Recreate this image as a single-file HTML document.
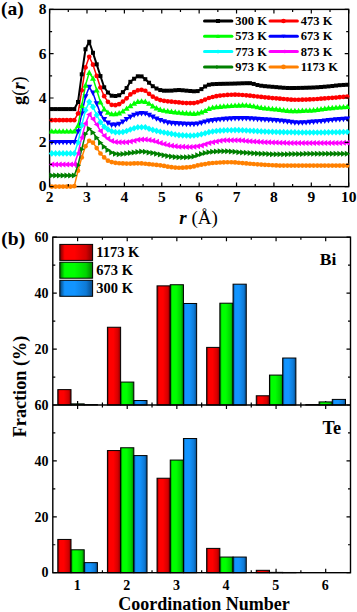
<!DOCTYPE html>
<html><head><meta charset="utf-8"><style>
html,body{margin:0;padding:0;background:#fff;width:357px;height:612px;overflow:hidden}
svg{display:block}
text{font-family:"Liberation Serif",serif}
</style></head><body>
<svg width="357" height="612" viewBox="0 0 357 612" font-family='"Liberation Serif", serif'>
<defs>
<linearGradient id="gr" x1="0" x2="1" y1="0" y2="0"><stop offset="0" stop-color="#700000"/><stop offset="0.15" stop-color="#ff0000"/><stop offset="0.45" stop-color="#ff0000"/><stop offset="0.8" stop-color="#d40000"/><stop offset="1" stop-color="#800000"/></linearGradient>
<linearGradient id="gg" x1="0" x2="1" y1="0" y2="0"><stop offset="0" stop-color="#007000"/><stop offset="0.15" stop-color="#00ff00"/><stop offset="0.45" stop-color="#00ff00"/><stop offset="0.8" stop-color="#00d400"/><stop offset="1" stop-color="#008000"/></linearGradient>
<linearGradient id="gb" x1="0" x2="1" y1="0" y2="0"><stop offset="0" stop-color="#064478"/><stop offset="0.15" stop-color="#1294ff"/><stop offset="0.45" stop-color="#1294ff"/><stop offset="0.8" stop-color="#0e7ad6"/><stop offset="1" stop-color="#084a86"/></linearGradient>
</defs>
<rect width="357" height="612" fill="#fff"/>
<rect x="49.6" y="9.4" width="299.10" height="177.20" fill="none" stroke="#000" stroke-width="1.4"/>
<path d="M49.60 186.60 L51.84 186.60 L55.58 186.60 L59.32 186.60 L63.06 186.60 L66.80 186.60 L70.54 186.60 L74.28 186.14 L78.01 170.74 L81.75 157.45 L85.49 146.25 L89.23 140.73 L92.97 142.67 L96.71 148.05 L100.45 153.48 L104.19 157.45 L107.92 160.72 L111.66 162.05 L115.40 162.79 L119.14 163.27 L122.88 163.45 L126.62 163.55 L130.36 163.54 L134.10 163.43 L137.83 163.35 L141.57 163.44 L145.31 163.77 L149.05 164.16 L152.79 164.51 L156.53 164.90 L160.27 165.36 L164.01 165.95 L167.74 166.72 L171.48 167.22 L175.22 167.55 L178.96 167.75 L182.70 167.72 L186.44 167.47 L190.18 167.07 L193.92 166.46 L197.65 165.45 L201.39 164.70 L205.13 164.03 L208.87 163.45 L212.61 163.02 L216.35 162.75 L220.09 162.52 L223.83 162.34 L227.56 162.24 L231.30 162.27 L235.04 162.46 L238.78 162.77 L242.52 163.12 L246.26 163.45 L250.00 163.73 L253.74 164.01 L257.47 164.30 L261.21 164.57 L264.95 164.81 L268.69 165.02 L272.43 165.24 L276.17 165.43 L279.91 165.55 L283.65 165.56 L287.38 165.56 L291.12 165.56 L294.86 165.56 L298.60 165.56 L302.34 165.56 L306.08 165.56 L309.82 165.56 L313.56 165.56 L317.29 165.56 L321.03 165.56 L324.77 165.56 L328.51 165.56 L332.25 165.56 L335.99 165.56 L339.73 165.56 L343.47 165.56 L347.20 165.56 L348.70 165.56" fill="none" stroke="#ff8000" stroke-width="1.5" stroke-linejoin="round"/>
<circle cx="51.84" cy="186.60" r="2.35" fill="#ff8000"/>
<circle cx="55.58" cy="186.60" r="2.35" fill="#ff8000"/>
<circle cx="59.32" cy="186.60" r="2.35" fill="#ff8000"/>
<circle cx="63.06" cy="186.60" r="2.35" fill="#ff8000"/>
<circle cx="66.80" cy="186.60" r="2.35" fill="#ff8000"/>
<circle cx="70.54" cy="186.60" r="2.35" fill="#ff8000"/>
<circle cx="74.28" cy="186.14" r="2.35" fill="#ff8000"/>
<circle cx="78.01" cy="170.74" r="2.35" fill="#ff8000"/>
<circle cx="81.75" cy="157.45" r="2.35" fill="#ff8000"/>
<circle cx="85.49" cy="146.25" r="2.35" fill="#ff8000"/>
<circle cx="89.23" cy="140.73" r="2.35" fill="#ff8000"/>
<circle cx="92.97" cy="142.67" r="2.35" fill="#ff8000"/>
<circle cx="96.71" cy="148.05" r="2.35" fill="#ff8000"/>
<circle cx="100.45" cy="153.48" r="2.35" fill="#ff8000"/>
<circle cx="104.19" cy="157.45" r="2.35" fill="#ff8000"/>
<circle cx="107.92" cy="160.72" r="2.35" fill="#ff8000"/>
<circle cx="111.66" cy="162.05" r="2.35" fill="#ff8000"/>
<circle cx="115.40" cy="162.79" r="2.35" fill="#ff8000"/>
<circle cx="119.14" cy="163.27" r="2.35" fill="#ff8000"/>
<circle cx="122.88" cy="163.45" r="2.35" fill="#ff8000"/>
<circle cx="126.62" cy="163.55" r="2.35" fill="#ff8000"/>
<circle cx="130.36" cy="163.54" r="2.35" fill="#ff8000"/>
<circle cx="134.10" cy="163.43" r="2.35" fill="#ff8000"/>
<circle cx="137.83" cy="163.35" r="2.35" fill="#ff8000"/>
<circle cx="141.57" cy="163.44" r="2.35" fill="#ff8000"/>
<circle cx="145.31" cy="163.77" r="2.35" fill="#ff8000"/>
<circle cx="149.05" cy="164.16" r="2.35" fill="#ff8000"/>
<circle cx="152.79" cy="164.51" r="2.35" fill="#ff8000"/>
<circle cx="156.53" cy="164.90" r="2.35" fill="#ff8000"/>
<circle cx="160.27" cy="165.36" r="2.35" fill="#ff8000"/>
<circle cx="164.01" cy="165.95" r="2.35" fill="#ff8000"/>
<circle cx="167.74" cy="166.72" r="2.35" fill="#ff8000"/>
<circle cx="171.48" cy="167.22" r="2.35" fill="#ff8000"/>
<circle cx="175.22" cy="167.55" r="2.35" fill="#ff8000"/>
<circle cx="178.96" cy="167.75" r="2.35" fill="#ff8000"/>
<circle cx="182.70" cy="167.72" r="2.35" fill="#ff8000"/>
<circle cx="186.44" cy="167.47" r="2.35" fill="#ff8000"/>
<circle cx="190.18" cy="167.07" r="2.35" fill="#ff8000"/>
<circle cx="193.92" cy="166.46" r="2.35" fill="#ff8000"/>
<circle cx="197.65" cy="165.45" r="2.35" fill="#ff8000"/>
<circle cx="201.39" cy="164.70" r="2.35" fill="#ff8000"/>
<circle cx="205.13" cy="164.03" r="2.35" fill="#ff8000"/>
<circle cx="208.87" cy="163.45" r="2.35" fill="#ff8000"/>
<circle cx="212.61" cy="163.02" r="2.35" fill="#ff8000"/>
<circle cx="216.35" cy="162.75" r="2.35" fill="#ff8000"/>
<circle cx="220.09" cy="162.52" r="2.35" fill="#ff8000"/>
<circle cx="223.83" cy="162.34" r="2.35" fill="#ff8000"/>
<circle cx="227.56" cy="162.24" r="2.35" fill="#ff8000"/>
<circle cx="231.30" cy="162.27" r="2.35" fill="#ff8000"/>
<circle cx="235.04" cy="162.46" r="2.35" fill="#ff8000"/>
<circle cx="238.78" cy="162.77" r="2.35" fill="#ff8000"/>
<circle cx="242.52" cy="163.12" r="2.35" fill="#ff8000"/>
<circle cx="246.26" cy="163.45" r="2.35" fill="#ff8000"/>
<circle cx="250.00" cy="163.73" r="2.35" fill="#ff8000"/>
<circle cx="253.74" cy="164.01" r="2.35" fill="#ff8000"/>
<circle cx="257.47" cy="164.30" r="2.35" fill="#ff8000"/>
<circle cx="261.21" cy="164.57" r="2.35" fill="#ff8000"/>
<circle cx="264.95" cy="164.81" r="2.35" fill="#ff8000"/>
<circle cx="268.69" cy="165.02" r="2.35" fill="#ff8000"/>
<circle cx="272.43" cy="165.24" r="2.35" fill="#ff8000"/>
<circle cx="276.17" cy="165.43" r="2.35" fill="#ff8000"/>
<circle cx="279.91" cy="165.55" r="2.35" fill="#ff8000"/>
<circle cx="283.65" cy="165.56" r="2.35" fill="#ff8000"/>
<circle cx="287.38" cy="165.56" r="2.35" fill="#ff8000"/>
<circle cx="291.12" cy="165.56" r="2.35" fill="#ff8000"/>
<circle cx="294.86" cy="165.56" r="2.35" fill="#ff8000"/>
<circle cx="298.60" cy="165.56" r="2.35" fill="#ff8000"/>
<circle cx="302.34" cy="165.56" r="2.35" fill="#ff8000"/>
<circle cx="306.08" cy="165.56" r="2.35" fill="#ff8000"/>
<circle cx="309.82" cy="165.56" r="2.35" fill="#ff8000"/>
<circle cx="313.56" cy="165.56" r="2.35" fill="#ff8000"/>
<circle cx="317.29" cy="165.56" r="2.35" fill="#ff8000"/>
<circle cx="321.03" cy="165.56" r="2.35" fill="#ff8000"/>
<circle cx="324.77" cy="165.56" r="2.35" fill="#ff8000"/>
<circle cx="328.51" cy="165.56" r="2.35" fill="#ff8000"/>
<circle cx="332.25" cy="165.56" r="2.35" fill="#ff8000"/>
<circle cx="335.99" cy="165.56" r="2.35" fill="#ff8000"/>
<circle cx="339.73" cy="165.56" r="2.35" fill="#ff8000"/>
<circle cx="343.47" cy="165.56" r="2.35" fill="#ff8000"/>
<circle cx="347.20" cy="165.56" r="2.35" fill="#ff8000"/>
<path d="M49.60 175.53 L51.84 175.53 L55.58 175.53 L59.32 175.53 L63.06 175.53 L66.80 175.53 L70.54 175.53 L74.28 175.53 L78.01 165.28 L81.75 149.20 L85.49 133.94 L89.23 128.64 L92.97 132.41 L96.71 137.79 L100.45 142.77 L104.19 146.86 L107.92 150.06 L111.66 152.49 L115.40 153.81 L119.14 154.25 L122.88 153.88 L126.62 153.42 L130.36 152.92 L134.10 152.44 L137.83 151.93 L141.57 151.61 L145.31 151.84 L149.05 152.38 L152.79 152.99 L156.53 153.74 L160.27 154.50 L164.01 155.31 L167.74 156.03 L171.48 156.56 L175.22 157.04 L178.96 157.33 L182.70 157.34 L186.44 157.23 L190.18 157.02 L193.92 156.48 L197.65 155.17 L201.39 154.08 L205.13 153.04 L208.87 152.24 L212.61 151.83 L216.35 151.52 L220.09 151.29 L223.83 151.17 L227.56 151.21 L231.30 151.44 L235.04 151.79 L238.78 152.15 L242.52 152.44 L246.26 152.75 L250.00 153.04 L253.74 153.29 L257.47 153.49 L261.21 153.68 L264.95 153.86 L268.69 154.02 L272.43 154.14 L276.17 154.23 L279.91 154.26 L283.65 154.23 L287.38 154.15 L291.12 154.06 L294.86 154.01 L298.60 153.95 L302.34 153.89 L306.08 153.85 L309.82 153.82 L313.56 153.82 L317.29 153.82 L321.03 153.82 L324.77 153.82 L328.51 153.82 L332.25 153.82 L335.99 153.82 L339.73 153.82 L343.47 153.82 L347.20 153.82 L348.70 153.82" fill="none" stroke="#008000" stroke-width="1.5" stroke-linejoin="round"/>
<path d="M54.84 175.53L49.44 172.53L49.44 178.53Z" fill="#008000"/>
<path d="M58.58 175.53L53.18 172.53L53.18 178.53Z" fill="#008000"/>
<path d="M62.32 175.53L56.92 172.53L56.92 178.53Z" fill="#008000"/>
<path d="M66.06 175.53L60.66 172.53L60.66 178.53Z" fill="#008000"/>
<path d="M69.80 175.53L64.40 172.53L64.40 178.53Z" fill="#008000"/>
<path d="M73.54 175.53L68.14 172.53L68.14 178.53Z" fill="#008000"/>
<path d="M77.28 175.53L71.88 172.53L71.88 178.53Z" fill="#008000"/>
<path d="M81.01 165.28L75.61 162.28L75.61 168.28Z" fill="#008000"/>
<path d="M84.75 149.20L79.35 146.20L79.35 152.20Z" fill="#008000"/>
<path d="M88.49 133.94L83.09 130.94L83.09 136.94Z" fill="#008000"/>
<path d="M92.23 128.64L86.83 125.64L86.83 131.64Z" fill="#008000"/>
<path d="M95.97 132.41L90.57 129.41L90.57 135.41Z" fill="#008000"/>
<path d="M99.71 137.79L94.31 134.79L94.31 140.79Z" fill="#008000"/>
<path d="M103.45 142.77L98.05 139.77L98.05 145.77Z" fill="#008000"/>
<path d="M107.19 146.86L101.79 143.86L101.79 149.86Z" fill="#008000"/>
<path d="M110.92 150.06L105.52 147.06L105.52 153.06Z" fill="#008000"/>
<path d="M114.66 152.49L109.26 149.49L109.26 155.49Z" fill="#008000"/>
<path d="M118.40 153.81L113.00 150.81L113.00 156.81Z" fill="#008000"/>
<path d="M122.14 154.25L116.74 151.25L116.74 157.25Z" fill="#008000"/>
<path d="M125.88 153.88L120.48 150.88L120.48 156.88Z" fill="#008000"/>
<path d="M129.62 153.42L124.22 150.42L124.22 156.42Z" fill="#008000"/>
<path d="M133.36 152.92L127.96 149.92L127.96 155.92Z" fill="#008000"/>
<path d="M137.10 152.44L131.70 149.44L131.70 155.44Z" fill="#008000"/>
<path d="M140.83 151.93L135.43 148.93L135.43 154.93Z" fill="#008000"/>
<path d="M144.57 151.61L139.17 148.61L139.17 154.61Z" fill="#008000"/>
<path d="M148.31 151.84L142.91 148.84L142.91 154.84Z" fill="#008000"/>
<path d="M152.05 152.38L146.65 149.38L146.65 155.38Z" fill="#008000"/>
<path d="M155.79 152.99L150.39 149.99L150.39 155.99Z" fill="#008000"/>
<path d="M159.53 153.74L154.13 150.74L154.13 156.74Z" fill="#008000"/>
<path d="M163.27 154.50L157.87 151.50L157.87 157.50Z" fill="#008000"/>
<path d="M167.01 155.31L161.61 152.31L161.61 158.31Z" fill="#008000"/>
<path d="M170.74 156.03L165.34 153.03L165.34 159.03Z" fill="#008000"/>
<path d="M174.48 156.56L169.08 153.56L169.08 159.56Z" fill="#008000"/>
<path d="M178.22 157.04L172.82 154.04L172.82 160.04Z" fill="#008000"/>
<path d="M181.96 157.33L176.56 154.33L176.56 160.33Z" fill="#008000"/>
<path d="M185.70 157.34L180.30 154.34L180.30 160.34Z" fill="#008000"/>
<path d="M189.44 157.23L184.04 154.23L184.04 160.23Z" fill="#008000"/>
<path d="M193.18 157.02L187.78 154.02L187.78 160.02Z" fill="#008000"/>
<path d="M196.92 156.48L191.52 153.48L191.52 159.48Z" fill="#008000"/>
<path d="M200.65 155.17L195.25 152.17L195.25 158.17Z" fill="#008000"/>
<path d="M204.39 154.08L198.99 151.08L198.99 157.08Z" fill="#008000"/>
<path d="M208.13 153.04L202.73 150.04L202.73 156.04Z" fill="#008000"/>
<path d="M211.87 152.24L206.47 149.24L206.47 155.24Z" fill="#008000"/>
<path d="M215.61 151.83L210.21 148.83L210.21 154.83Z" fill="#008000"/>
<path d="M219.35 151.52L213.95 148.52L213.95 154.52Z" fill="#008000"/>
<path d="M223.09 151.29L217.69 148.29L217.69 154.29Z" fill="#008000"/>
<path d="M226.83 151.17L221.43 148.17L221.43 154.17Z" fill="#008000"/>
<path d="M230.56 151.21L225.16 148.21L225.16 154.21Z" fill="#008000"/>
<path d="M234.30 151.44L228.90 148.44L228.90 154.44Z" fill="#008000"/>
<path d="M238.04 151.79L232.64 148.79L232.64 154.79Z" fill="#008000"/>
<path d="M241.78 152.15L236.38 149.15L236.38 155.15Z" fill="#008000"/>
<path d="M245.52 152.44L240.12 149.44L240.12 155.44Z" fill="#008000"/>
<path d="M249.26 152.75L243.86 149.75L243.86 155.75Z" fill="#008000"/>
<path d="M253.00 153.04L247.60 150.04L247.60 156.04Z" fill="#008000"/>
<path d="M256.74 153.29L251.34 150.29L251.34 156.29Z" fill="#008000"/>
<path d="M260.47 153.49L255.07 150.49L255.07 156.49Z" fill="#008000"/>
<path d="M264.21 153.68L258.81 150.68L258.81 156.68Z" fill="#008000"/>
<path d="M267.95 153.86L262.55 150.86L262.55 156.86Z" fill="#008000"/>
<path d="M271.69 154.02L266.29 151.02L266.29 157.02Z" fill="#008000"/>
<path d="M275.43 154.14L270.03 151.14L270.03 157.14Z" fill="#008000"/>
<path d="M279.17 154.23L273.77 151.23L273.77 157.23Z" fill="#008000"/>
<path d="M282.91 154.26L277.51 151.26L277.51 157.26Z" fill="#008000"/>
<path d="M286.65 154.23L281.25 151.23L281.25 157.23Z" fill="#008000"/>
<path d="M290.38 154.15L284.98 151.15L284.98 157.15Z" fill="#008000"/>
<path d="M294.12 154.06L288.72 151.06L288.72 157.06Z" fill="#008000"/>
<path d="M297.86 154.01L292.46 151.01L292.46 157.01Z" fill="#008000"/>
<path d="M301.60 153.95L296.20 150.95L296.20 156.95Z" fill="#008000"/>
<path d="M305.34 153.89L299.94 150.89L299.94 156.89Z" fill="#008000"/>
<path d="M309.08 153.85L303.68 150.85L303.68 156.85Z" fill="#008000"/>
<path d="M312.82 153.82L307.42 150.82L307.42 156.82Z" fill="#008000"/>
<path d="M316.56 153.82L311.16 150.82L311.16 156.82Z" fill="#008000"/>
<path d="M320.29 153.82L314.89 150.82L314.89 156.82Z" fill="#008000"/>
<path d="M324.03 153.82L318.63 150.82L318.63 156.82Z" fill="#008000"/>
<path d="M327.77 153.82L322.37 150.82L322.37 156.82Z" fill="#008000"/>
<path d="M331.51 153.82L326.11 150.82L326.11 156.82Z" fill="#008000"/>
<path d="M335.25 153.82L329.85 150.82L329.85 156.82Z" fill="#008000"/>
<path d="M338.99 153.82L333.59 150.82L333.59 156.82Z" fill="#008000"/>
<path d="M342.73 153.82L337.33 150.82L337.33 156.82Z" fill="#008000"/>
<path d="M346.47 153.82L341.07 150.82L341.07 156.82Z" fill="#008000"/>
<path d="M350.20 153.82L344.80 150.82L344.80 156.82Z" fill="#008000"/>
<path d="M49.60 164.45 L51.84 164.45 L55.58 164.45 L59.32 164.45 L63.06 164.45 L66.80 164.45 L70.54 164.45 L74.28 164.45 L78.01 153.45 L81.75 137.41 L85.49 123.48 L89.23 114.51 L92.97 119.12 L96.71 124.54 L100.45 130.88 L104.19 135.66 L107.92 138.74 L111.66 140.98 L115.40 141.97 L119.14 142.30 L122.88 142.30 L126.62 142.22 L130.36 141.51 L134.10 140.67 L137.83 139.75 L141.57 139.43 L145.31 139.56 L149.05 139.93 L152.79 140.81 L156.53 141.81 L160.27 142.97 L164.01 144.07 L167.74 145.10 L171.48 145.77 L175.22 146.30 L178.96 146.66 L182.70 146.80 L186.44 146.90 L190.18 146.95 L193.92 146.84 L197.65 146.32 L201.39 145.56 L205.13 144.34 L208.87 143.12 L212.61 142.25 L216.35 141.43 L220.09 140.74 L223.83 140.35 L227.56 140.31 L231.30 140.31 L235.04 140.31 L238.78 140.36 L242.52 140.61 L246.26 140.97 L250.00 141.31 L253.74 141.55 L257.47 141.76 L261.21 141.97 L264.95 142.16 L268.69 142.33 L272.43 142.47 L276.17 142.59 L279.91 142.72 L283.65 142.83 L287.38 142.91 L291.12 142.96 L294.86 142.96 L298.60 142.96 L302.34 142.96 L306.08 142.96 L309.82 142.96 L313.56 142.96 L317.29 142.96 L321.03 142.96 L324.77 142.96 L328.51 142.96 L332.25 142.96 L335.99 142.93 L339.73 142.89 L343.47 142.83 L347.20 142.77 L348.70 142.74" fill="none" stroke="#ff00ff" stroke-width="1.5" stroke-linejoin="round"/>
<path d="M48.84 164.45L54.24 161.45L54.24 167.45Z" fill="#ff00ff"/>
<path d="M52.58 164.45L57.98 161.45L57.98 167.45Z" fill="#ff00ff"/>
<path d="M56.32 164.45L61.72 161.45L61.72 167.45Z" fill="#ff00ff"/>
<path d="M60.06 164.45L65.46 161.45L65.46 167.45Z" fill="#ff00ff"/>
<path d="M63.80 164.45L69.20 161.45L69.20 167.45Z" fill="#ff00ff"/>
<path d="M67.54 164.45L72.94 161.45L72.94 167.45Z" fill="#ff00ff"/>
<path d="M71.28 164.45L76.68 161.45L76.68 167.45Z" fill="#ff00ff"/>
<path d="M75.01 153.45L80.41 150.45L80.41 156.45Z" fill="#ff00ff"/>
<path d="M78.75 137.41L84.15 134.41L84.15 140.41Z" fill="#ff00ff"/>
<path d="M82.49 123.48L87.89 120.48L87.89 126.48Z" fill="#ff00ff"/>
<path d="M86.23 114.51L91.63 111.51L91.63 117.51Z" fill="#ff00ff"/>
<path d="M89.97 119.12L95.37 116.12L95.37 122.12Z" fill="#ff00ff"/>
<path d="M93.71 124.54L99.11 121.54L99.11 127.54Z" fill="#ff00ff"/>
<path d="M97.45 130.88L102.85 127.88L102.85 133.88Z" fill="#ff00ff"/>
<path d="M101.19 135.66L106.59 132.66L106.59 138.66Z" fill="#ff00ff"/>
<path d="M104.92 138.74L110.32 135.74L110.32 141.74Z" fill="#ff00ff"/>
<path d="M108.66 140.98L114.06 137.98L114.06 143.98Z" fill="#ff00ff"/>
<path d="M112.40 141.97L117.80 138.97L117.80 144.97Z" fill="#ff00ff"/>
<path d="M116.14 142.30L121.54 139.30L121.54 145.30Z" fill="#ff00ff"/>
<path d="M119.88 142.30L125.28 139.30L125.28 145.30Z" fill="#ff00ff"/>
<path d="M123.62 142.22L129.02 139.22L129.02 145.22Z" fill="#ff00ff"/>
<path d="M127.36 141.51L132.76 138.51L132.76 144.51Z" fill="#ff00ff"/>
<path d="M131.10 140.67L136.50 137.67L136.50 143.67Z" fill="#ff00ff"/>
<path d="M134.83 139.75L140.23 136.75L140.23 142.75Z" fill="#ff00ff"/>
<path d="M138.57 139.43L143.97 136.43L143.97 142.43Z" fill="#ff00ff"/>
<path d="M142.31 139.56L147.71 136.56L147.71 142.56Z" fill="#ff00ff"/>
<path d="M146.05 139.93L151.45 136.93L151.45 142.93Z" fill="#ff00ff"/>
<path d="M149.79 140.81L155.19 137.81L155.19 143.81Z" fill="#ff00ff"/>
<path d="M153.53 141.81L158.93 138.81L158.93 144.81Z" fill="#ff00ff"/>
<path d="M157.27 142.97L162.67 139.97L162.67 145.97Z" fill="#ff00ff"/>
<path d="M161.01 144.07L166.41 141.07L166.41 147.07Z" fill="#ff00ff"/>
<path d="M164.74 145.10L170.14 142.10L170.14 148.10Z" fill="#ff00ff"/>
<path d="M168.48 145.77L173.88 142.77L173.88 148.77Z" fill="#ff00ff"/>
<path d="M172.22 146.30L177.62 143.30L177.62 149.30Z" fill="#ff00ff"/>
<path d="M175.96 146.66L181.36 143.66L181.36 149.66Z" fill="#ff00ff"/>
<path d="M179.70 146.80L185.10 143.80L185.10 149.80Z" fill="#ff00ff"/>
<path d="M183.44 146.90L188.84 143.90L188.84 149.90Z" fill="#ff00ff"/>
<path d="M187.18 146.95L192.58 143.95L192.58 149.95Z" fill="#ff00ff"/>
<path d="M190.92 146.84L196.32 143.84L196.32 149.84Z" fill="#ff00ff"/>
<path d="M194.65 146.32L200.05 143.32L200.05 149.32Z" fill="#ff00ff"/>
<path d="M198.39 145.56L203.79 142.56L203.79 148.56Z" fill="#ff00ff"/>
<path d="M202.13 144.34L207.53 141.34L207.53 147.34Z" fill="#ff00ff"/>
<path d="M205.87 143.12L211.27 140.12L211.27 146.12Z" fill="#ff00ff"/>
<path d="M209.61 142.25L215.01 139.25L215.01 145.25Z" fill="#ff00ff"/>
<path d="M213.35 141.43L218.75 138.43L218.75 144.43Z" fill="#ff00ff"/>
<path d="M217.09 140.74L222.49 137.74L222.49 143.74Z" fill="#ff00ff"/>
<path d="M220.83 140.35L226.23 137.35L226.23 143.35Z" fill="#ff00ff"/>
<path d="M224.56 140.31L229.96 137.31L229.96 143.31Z" fill="#ff00ff"/>
<path d="M228.30 140.31L233.70 137.31L233.70 143.31Z" fill="#ff00ff"/>
<path d="M232.04 140.31L237.44 137.31L237.44 143.31Z" fill="#ff00ff"/>
<path d="M235.78 140.36L241.18 137.36L241.18 143.36Z" fill="#ff00ff"/>
<path d="M239.52 140.61L244.92 137.61L244.92 143.61Z" fill="#ff00ff"/>
<path d="M243.26 140.97L248.66 137.97L248.66 143.97Z" fill="#ff00ff"/>
<path d="M247.00 141.31L252.40 138.31L252.40 144.31Z" fill="#ff00ff"/>
<path d="M250.74 141.55L256.14 138.55L256.14 144.55Z" fill="#ff00ff"/>
<path d="M254.47 141.76L259.87 138.76L259.87 144.76Z" fill="#ff00ff"/>
<path d="M258.21 141.97L263.61 138.97L263.61 144.97Z" fill="#ff00ff"/>
<path d="M261.95 142.16L267.35 139.16L267.35 145.16Z" fill="#ff00ff"/>
<path d="M265.69 142.33L271.09 139.33L271.09 145.33Z" fill="#ff00ff"/>
<path d="M269.43 142.47L274.83 139.47L274.83 145.47Z" fill="#ff00ff"/>
<path d="M273.17 142.59L278.57 139.59L278.57 145.59Z" fill="#ff00ff"/>
<path d="M276.91 142.72L282.31 139.72L282.31 145.72Z" fill="#ff00ff"/>
<path d="M280.65 142.83L286.05 139.83L286.05 145.83Z" fill="#ff00ff"/>
<path d="M284.38 142.91L289.78 139.91L289.78 145.91Z" fill="#ff00ff"/>
<path d="M288.12 142.96L293.52 139.96L293.52 145.96Z" fill="#ff00ff"/>
<path d="M291.86 142.96L297.26 139.96L297.26 145.96Z" fill="#ff00ff"/>
<path d="M295.60 142.96L301.00 139.96L301.00 145.96Z" fill="#ff00ff"/>
<path d="M299.34 142.96L304.74 139.96L304.74 145.96Z" fill="#ff00ff"/>
<path d="M303.08 142.96L308.48 139.96L308.48 145.96Z" fill="#ff00ff"/>
<path d="M306.82 142.96L312.22 139.96L312.22 145.96Z" fill="#ff00ff"/>
<path d="M310.56 142.96L315.96 139.96L315.96 145.96Z" fill="#ff00ff"/>
<path d="M314.29 142.96L319.69 139.96L319.69 145.96Z" fill="#ff00ff"/>
<path d="M318.03 142.96L323.43 139.96L323.43 145.96Z" fill="#ff00ff"/>
<path d="M321.77 142.96L327.17 139.96L327.17 145.96Z" fill="#ff00ff"/>
<path d="M325.51 142.96L330.91 139.96L330.91 145.96Z" fill="#ff00ff"/>
<path d="M329.25 142.96L334.65 139.96L334.65 145.96Z" fill="#ff00ff"/>
<path d="M332.99 142.93L338.39 139.93L338.39 145.93Z" fill="#ff00ff"/>
<path d="M336.73 142.89L342.13 139.89L342.13 145.89Z" fill="#ff00ff"/>
<path d="M340.47 142.83L345.87 139.83L345.87 145.83Z" fill="#ff00ff"/>
<path d="M344.20 142.77L349.60 139.77L349.60 145.77Z" fill="#ff00ff"/>
<path d="M49.60 153.38 L51.84 153.38 L55.58 153.38 L59.32 153.38 L63.06 153.38 L66.80 153.38 L70.54 153.38 L74.28 153.38 L78.01 142.49 L81.75 125.40 L85.49 110.22 L89.23 101.87 L92.97 106.91 L96.71 115.02 L100.45 122.28 L104.19 126.64 L107.92 129.39 L111.66 131.19 L115.40 132.14 L119.14 132.32 L122.88 131.99 L126.62 131.00 L130.36 129.53 L134.10 128.25 L137.83 127.28 L141.57 127.24 L145.31 127.24 L149.05 128.71 L152.79 129.91 L156.53 130.87 L160.27 131.72 L164.01 132.48 L167.74 133.17 L171.48 133.85 L175.22 134.55 L178.96 135.09 L182.70 135.35 L186.44 135.54 L190.18 135.64 L193.92 135.54 L197.65 135.01 L201.39 134.30 L205.13 133.20 L208.87 132.17 L212.61 131.56 L216.35 131.07 L220.09 130.67 L223.83 130.40 L227.56 130.27 L231.30 130.18 L235.04 130.12 L238.78 130.14 L242.52 130.28 L246.26 130.48 L250.00 130.70 L253.74 130.91 L257.47 131.15 L261.21 131.40 L264.95 131.61 L268.69 131.75 L272.43 131.87 L276.17 131.98 L279.91 132.08 L283.65 132.16 L287.38 132.24 L291.12 132.31 L294.86 132.37 L298.60 132.43 L302.34 132.49 L306.08 132.53 L309.82 132.55 L313.56 132.55 L317.29 132.52 L321.03 132.47 L324.77 132.42 L328.51 132.36 L332.25 132.29 L335.99 132.22 L339.73 132.13 L343.47 132.04 L347.20 131.93 L348.70 131.89" fill="none" stroke="#00ffff" stroke-width="1.5" stroke-linejoin="round"/>
<path d="M51.84 150.07L54.84 153.38L51.84 156.68L48.84 153.38Z" fill="#00ffff"/>
<path d="M55.58 150.07L58.58 153.38L55.58 156.68L52.58 153.38Z" fill="#00ffff"/>
<path d="M59.32 150.07L62.32 153.38L59.32 156.68L56.32 153.38Z" fill="#00ffff"/>
<path d="M63.06 150.07L66.06 153.38L63.06 156.68L60.06 153.38Z" fill="#00ffff"/>
<path d="M66.80 150.07L69.80 153.38L66.80 156.68L63.80 153.38Z" fill="#00ffff"/>
<path d="M70.54 150.07L73.54 153.38L70.54 156.68L67.54 153.38Z" fill="#00ffff"/>
<path d="M74.28 150.07L77.28 153.38L74.28 156.68L71.28 153.38Z" fill="#00ffff"/>
<path d="M78.01 139.19L81.01 142.49L78.01 145.79L75.01 142.49Z" fill="#00ffff"/>
<path d="M81.75 122.10L84.75 125.40L81.75 128.70L78.75 125.40Z" fill="#00ffff"/>
<path d="M85.49 106.92L88.49 110.22L85.49 113.52L82.49 110.22Z" fill="#00ffff"/>
<path d="M89.23 98.57L92.23 101.87L89.23 105.17L86.23 101.87Z" fill="#00ffff"/>
<path d="M92.97 103.61L95.97 106.91L92.97 110.21L89.97 106.91Z" fill="#00ffff"/>
<path d="M96.71 111.72L99.71 115.02L96.71 118.32L93.71 115.02Z" fill="#00ffff"/>
<path d="M100.45 118.98L103.45 122.28L100.45 125.58L97.45 122.28Z" fill="#00ffff"/>
<path d="M104.19 123.34L107.19 126.64L104.19 129.94L101.19 126.64Z" fill="#00ffff"/>
<path d="M107.92 126.09L110.92 129.39L107.92 132.69L104.92 129.39Z" fill="#00ffff"/>
<path d="M111.66 127.89L114.66 131.19L111.66 134.49L108.66 131.19Z" fill="#00ffff"/>
<path d="M115.40 128.84L118.40 132.14L115.40 135.44L112.40 132.14Z" fill="#00ffff"/>
<path d="M119.14 129.02L122.14 132.32L119.14 135.62L116.14 132.32Z" fill="#00ffff"/>
<path d="M122.88 128.69L125.88 131.99L122.88 135.29L119.88 131.99Z" fill="#00ffff"/>
<path d="M126.62 127.70L129.62 131.00L126.62 134.30L123.62 131.00Z" fill="#00ffff"/>
<path d="M130.36 126.23L133.36 129.53L130.36 132.83L127.36 129.53Z" fill="#00ffff"/>
<path d="M134.10 124.95L137.10 128.25L134.10 131.55L131.10 128.25Z" fill="#00ffff"/>
<path d="M137.83 123.98L140.83 127.28L137.83 130.58L134.83 127.28Z" fill="#00ffff"/>
<path d="M141.57 123.94L144.57 127.24L141.57 130.54L138.57 127.24Z" fill="#00ffff"/>
<path d="M145.31 123.94L148.31 127.24L145.31 130.54L142.31 127.24Z" fill="#00ffff"/>
<path d="M149.05 125.41L152.05 128.71L149.05 132.01L146.05 128.71Z" fill="#00ffff"/>
<path d="M152.79 126.61L155.79 129.91L152.79 133.21L149.79 129.91Z" fill="#00ffff"/>
<path d="M156.53 127.57L159.53 130.87L156.53 134.17L153.53 130.87Z" fill="#00ffff"/>
<path d="M160.27 128.42L163.27 131.72L160.27 135.02L157.27 131.72Z" fill="#00ffff"/>
<path d="M164.01 129.18L167.01 132.48L164.01 135.78L161.01 132.48Z" fill="#00ffff"/>
<path d="M167.74 129.87L170.74 133.17L167.74 136.47L164.74 133.17Z" fill="#00ffff"/>
<path d="M171.48 130.55L174.48 133.85L171.48 137.15L168.48 133.85Z" fill="#00ffff"/>
<path d="M175.22 131.25L178.22 134.55L175.22 137.85L172.22 134.55Z" fill="#00ffff"/>
<path d="M178.96 131.79L181.96 135.09L178.96 138.39L175.96 135.09Z" fill="#00ffff"/>
<path d="M182.70 132.05L185.70 135.35L182.70 138.65L179.70 135.35Z" fill="#00ffff"/>
<path d="M186.44 132.24L189.44 135.54L186.44 138.84L183.44 135.54Z" fill="#00ffff"/>
<path d="M190.18 132.34L193.18 135.64L190.18 138.94L187.18 135.64Z" fill="#00ffff"/>
<path d="M193.92 132.24L196.92 135.54L193.92 138.84L190.92 135.54Z" fill="#00ffff"/>
<path d="M197.65 131.71L200.65 135.01L197.65 138.31L194.65 135.01Z" fill="#00ffff"/>
<path d="M201.39 131.00L204.39 134.30L201.39 137.60L198.39 134.30Z" fill="#00ffff"/>
<path d="M205.13 129.90L208.13 133.20L205.13 136.50L202.13 133.20Z" fill="#00ffff"/>
<path d="M208.87 128.87L211.87 132.17L208.87 135.47L205.87 132.17Z" fill="#00ffff"/>
<path d="M212.61 128.26L215.61 131.56L212.61 134.86L209.61 131.56Z" fill="#00ffff"/>
<path d="M216.35 127.77L219.35 131.07L216.35 134.37L213.35 131.07Z" fill="#00ffff"/>
<path d="M220.09 127.37L223.09 130.67L220.09 133.97L217.09 130.67Z" fill="#00ffff"/>
<path d="M223.83 127.10L226.83 130.40L223.83 133.70L220.83 130.40Z" fill="#00ffff"/>
<path d="M227.56 126.97L230.56 130.27L227.56 133.57L224.56 130.27Z" fill="#00ffff"/>
<path d="M231.30 126.88L234.30 130.18L231.30 133.48L228.30 130.18Z" fill="#00ffff"/>
<path d="M235.04 126.82L238.04 130.12L235.04 133.42L232.04 130.12Z" fill="#00ffff"/>
<path d="M238.78 126.84L241.78 130.14L238.78 133.44L235.78 130.14Z" fill="#00ffff"/>
<path d="M242.52 126.98L245.52 130.28L242.52 133.58L239.52 130.28Z" fill="#00ffff"/>
<path d="M246.26 127.18L249.26 130.48L246.26 133.78L243.26 130.48Z" fill="#00ffff"/>
<path d="M250.00 127.40L253.00 130.70L250.00 134.00L247.00 130.70Z" fill="#00ffff"/>
<path d="M253.74 127.61L256.74 130.91L253.74 134.21L250.74 130.91Z" fill="#00ffff"/>
<path d="M257.47 127.85L260.47 131.15L257.47 134.45L254.47 131.15Z" fill="#00ffff"/>
<path d="M261.21 128.10L264.21 131.40L261.21 134.70L258.21 131.40Z" fill="#00ffff"/>
<path d="M264.95 128.31L267.95 131.61L264.95 134.91L261.95 131.61Z" fill="#00ffff"/>
<path d="M268.69 128.45L271.69 131.75L268.69 135.05L265.69 131.75Z" fill="#00ffff"/>
<path d="M272.43 128.57L275.43 131.87L272.43 135.17L269.43 131.87Z" fill="#00ffff"/>
<path d="M276.17 128.68L279.17 131.98L276.17 135.28L273.17 131.98Z" fill="#00ffff"/>
<path d="M279.91 128.78L282.91 132.08L279.91 135.38L276.91 132.08Z" fill="#00ffff"/>
<path d="M283.65 128.86L286.65 132.16L283.65 135.46L280.65 132.16Z" fill="#00ffff"/>
<path d="M287.38 128.94L290.38 132.24L287.38 135.54L284.38 132.24Z" fill="#00ffff"/>
<path d="M291.12 129.01L294.12 132.31L291.12 135.61L288.12 132.31Z" fill="#00ffff"/>
<path d="M294.86 129.07L297.86 132.37L294.86 135.67L291.86 132.37Z" fill="#00ffff"/>
<path d="M298.60 129.13L301.60 132.43L298.60 135.73L295.60 132.43Z" fill="#00ffff"/>
<path d="M302.34 129.19L305.34 132.49L302.34 135.79L299.34 132.49Z" fill="#00ffff"/>
<path d="M306.08 129.23L309.08 132.53L306.08 135.83L303.08 132.53Z" fill="#00ffff"/>
<path d="M309.82 129.25L312.82 132.55L309.82 135.85L306.82 132.55Z" fill="#00ffff"/>
<path d="M313.56 129.25L316.56 132.55L313.56 135.85L310.56 132.55Z" fill="#00ffff"/>
<path d="M317.29 129.22L320.29 132.52L317.29 135.82L314.29 132.52Z" fill="#00ffff"/>
<path d="M321.03 129.17L324.03 132.47L321.03 135.77L318.03 132.47Z" fill="#00ffff"/>
<path d="M324.77 129.12L327.77 132.42L324.77 135.72L321.77 132.42Z" fill="#00ffff"/>
<path d="M328.51 129.06L331.51 132.36L328.51 135.66L325.51 132.36Z" fill="#00ffff"/>
<path d="M332.25 128.99L335.25 132.29L332.25 135.59L329.25 132.29Z" fill="#00ffff"/>
<path d="M335.99 128.92L338.99 132.22L335.99 135.52L332.99 132.22Z" fill="#00ffff"/>
<path d="M339.73 128.83L342.73 132.13L339.73 135.43L336.73 132.13Z" fill="#00ffff"/>
<path d="M343.47 128.74L346.47 132.04L343.47 135.34L340.47 132.04Z" fill="#00ffff"/>
<path d="M347.20 128.63L350.20 131.93L347.20 135.23L344.20 131.93Z" fill="#00ffff"/>
<path d="M49.60 142.30 L51.84 142.30 L55.58 142.30 L59.32 142.30 L63.06 142.30 L66.80 142.30 L70.54 142.30 L74.28 142.30 L78.01 131.53 L81.75 113.63 L85.49 96.77 L89.23 87.05 L92.97 92.91 L96.71 103.63 L100.45 113.62 L104.19 119.49 L107.92 123.02 L111.66 124.93 L115.40 124.92 L119.14 124.04 L122.88 121.84 L126.62 119.34 L130.36 116.98 L134.10 115.08 L137.83 113.93 L141.57 113.51 L145.31 113.53 L149.05 115.06 L152.79 117.01 L156.53 118.82 L160.27 120.30 L164.01 121.55 L167.74 122.63 L171.48 123.19 L175.22 123.49 L178.96 123.72 L182.70 123.98 L186.44 124.14 L190.18 124.14 L193.92 124.14 L197.65 123.87 L201.39 122.95 L205.13 121.83 L208.87 120.98 L212.61 120.39 L216.35 119.94 L220.09 119.56 L223.83 119.25 L227.56 118.99 L231.30 118.74 L235.04 118.52 L238.78 118.39 L242.52 118.40 L246.26 118.50 L250.00 118.68 L253.74 118.90 L257.47 119.15 L261.21 119.39 L264.95 119.63 L268.69 119.89 L272.43 120.18 L276.17 120.49 L279.91 120.81 L283.65 121.23 L287.38 121.74 L291.12 122.24 L294.86 122.63 L298.60 122.81 L302.34 122.75 L306.08 122.55 L309.82 122.27 L313.56 121.94 L317.29 121.61 L321.03 121.28 L324.77 120.88 L328.51 120.46 L332.25 120.07 L335.99 119.74 L339.73 119.44 L343.47 119.16 L347.20 118.91 L348.70 118.82" fill="none" stroke="#0000ff" stroke-width="1.5" stroke-linejoin="round"/>
<path d="M51.84 145.30L54.84 139.90L48.84 139.90Z" fill="#0000ff"/>
<path d="M55.58 145.30L58.58 139.90L52.58 139.90Z" fill="#0000ff"/>
<path d="M59.32 145.30L62.32 139.90L56.32 139.90Z" fill="#0000ff"/>
<path d="M63.06 145.30L66.06 139.90L60.06 139.90Z" fill="#0000ff"/>
<path d="M66.80 145.30L69.80 139.90L63.80 139.90Z" fill="#0000ff"/>
<path d="M70.54 145.30L73.54 139.90L67.54 139.90Z" fill="#0000ff"/>
<path d="M74.28 145.30L77.28 139.90L71.28 139.90Z" fill="#0000ff"/>
<path d="M78.01 134.53L81.01 129.13L75.01 129.13Z" fill="#0000ff"/>
<path d="M81.75 116.63L84.75 111.23L78.75 111.23Z" fill="#0000ff"/>
<path d="M85.49 99.77L88.49 94.37L82.49 94.37Z" fill="#0000ff"/>
<path d="M89.23 90.05L92.23 84.65L86.23 84.65Z" fill="#0000ff"/>
<path d="M92.97 95.91L95.97 90.51L89.97 90.51Z" fill="#0000ff"/>
<path d="M96.71 106.63L99.71 101.23L93.71 101.23Z" fill="#0000ff"/>
<path d="M100.45 116.62L103.45 111.22L97.45 111.22Z" fill="#0000ff"/>
<path d="M104.19 122.49L107.19 117.09L101.19 117.09Z" fill="#0000ff"/>
<path d="M107.92 126.02L110.92 120.62L104.92 120.62Z" fill="#0000ff"/>
<path d="M111.66 127.93L114.66 122.53L108.66 122.53Z" fill="#0000ff"/>
<path d="M115.40 127.92L118.40 122.52L112.40 122.52Z" fill="#0000ff"/>
<path d="M119.14 127.04L122.14 121.64L116.14 121.64Z" fill="#0000ff"/>
<path d="M122.88 124.84L125.88 119.44L119.88 119.44Z" fill="#0000ff"/>
<path d="M126.62 122.34L129.62 116.94L123.62 116.94Z" fill="#0000ff"/>
<path d="M130.36 119.98L133.36 114.58L127.36 114.58Z" fill="#0000ff"/>
<path d="M134.10 118.08L137.10 112.68L131.10 112.68Z" fill="#0000ff"/>
<path d="M137.83 116.93L140.83 111.53L134.83 111.53Z" fill="#0000ff"/>
<path d="M141.57 116.51L144.57 111.11L138.57 111.11Z" fill="#0000ff"/>
<path d="M145.31 116.53L148.31 111.13L142.31 111.13Z" fill="#0000ff"/>
<path d="M149.05 118.06L152.05 112.66L146.05 112.66Z" fill="#0000ff"/>
<path d="M152.79 120.01L155.79 114.61L149.79 114.61Z" fill="#0000ff"/>
<path d="M156.53 121.82L159.53 116.42L153.53 116.42Z" fill="#0000ff"/>
<path d="M160.27 123.30L163.27 117.90L157.27 117.90Z" fill="#0000ff"/>
<path d="M164.01 124.55L167.01 119.15L161.01 119.15Z" fill="#0000ff"/>
<path d="M167.74 125.63L170.74 120.23L164.74 120.23Z" fill="#0000ff"/>
<path d="M171.48 126.19L174.48 120.79L168.48 120.79Z" fill="#0000ff"/>
<path d="M175.22 126.49L178.22 121.09L172.22 121.09Z" fill="#0000ff"/>
<path d="M178.96 126.72L181.96 121.32L175.96 121.32Z" fill="#0000ff"/>
<path d="M182.70 126.98L185.70 121.58L179.70 121.58Z" fill="#0000ff"/>
<path d="M186.44 127.14L189.44 121.74L183.44 121.74Z" fill="#0000ff"/>
<path d="M190.18 127.14L193.18 121.74L187.18 121.74Z" fill="#0000ff"/>
<path d="M193.92 127.14L196.92 121.74L190.92 121.74Z" fill="#0000ff"/>
<path d="M197.65 126.87L200.65 121.47L194.65 121.47Z" fill="#0000ff"/>
<path d="M201.39 125.95L204.39 120.55L198.39 120.55Z" fill="#0000ff"/>
<path d="M205.13 124.83L208.13 119.43L202.13 119.43Z" fill="#0000ff"/>
<path d="M208.87 123.98L211.87 118.58L205.87 118.58Z" fill="#0000ff"/>
<path d="M212.61 123.39L215.61 117.99L209.61 117.99Z" fill="#0000ff"/>
<path d="M216.35 122.94L219.35 117.54L213.35 117.54Z" fill="#0000ff"/>
<path d="M220.09 122.56L223.09 117.16L217.09 117.16Z" fill="#0000ff"/>
<path d="M223.83 122.25L226.83 116.85L220.83 116.85Z" fill="#0000ff"/>
<path d="M227.56 121.99L230.56 116.59L224.56 116.59Z" fill="#0000ff"/>
<path d="M231.30 121.74L234.30 116.34L228.30 116.34Z" fill="#0000ff"/>
<path d="M235.04 121.52L238.04 116.12L232.04 116.12Z" fill="#0000ff"/>
<path d="M238.78 121.39L241.78 115.99L235.78 115.99Z" fill="#0000ff"/>
<path d="M242.52 121.40L245.52 116.00L239.52 116.00Z" fill="#0000ff"/>
<path d="M246.26 121.50L249.26 116.10L243.26 116.10Z" fill="#0000ff"/>
<path d="M250.00 121.68L253.00 116.28L247.00 116.28Z" fill="#0000ff"/>
<path d="M253.74 121.90L256.74 116.50L250.74 116.50Z" fill="#0000ff"/>
<path d="M257.47 122.15L260.47 116.75L254.47 116.75Z" fill="#0000ff"/>
<path d="M261.21 122.39L264.21 116.99L258.21 116.99Z" fill="#0000ff"/>
<path d="M264.95 122.63L267.95 117.23L261.95 117.23Z" fill="#0000ff"/>
<path d="M268.69 122.89L271.69 117.49L265.69 117.49Z" fill="#0000ff"/>
<path d="M272.43 123.18L275.43 117.78L269.43 117.78Z" fill="#0000ff"/>
<path d="M276.17 123.49L279.17 118.09L273.17 118.09Z" fill="#0000ff"/>
<path d="M279.91 123.81L282.91 118.41L276.91 118.41Z" fill="#0000ff"/>
<path d="M283.65 124.23L286.65 118.83L280.65 118.83Z" fill="#0000ff"/>
<path d="M287.38 124.74L290.38 119.34L284.38 119.34Z" fill="#0000ff"/>
<path d="M291.12 125.24L294.12 119.84L288.12 119.84Z" fill="#0000ff"/>
<path d="M294.86 125.63L297.86 120.23L291.86 120.23Z" fill="#0000ff"/>
<path d="M298.60 125.81L301.60 120.41L295.60 120.41Z" fill="#0000ff"/>
<path d="M302.34 125.75L305.34 120.35L299.34 120.35Z" fill="#0000ff"/>
<path d="M306.08 125.55L309.08 120.15L303.08 120.15Z" fill="#0000ff"/>
<path d="M309.82 125.27L312.82 119.87L306.82 119.87Z" fill="#0000ff"/>
<path d="M313.56 124.94L316.56 119.54L310.56 119.54Z" fill="#0000ff"/>
<path d="M317.29 124.61L320.29 119.21L314.29 119.21Z" fill="#0000ff"/>
<path d="M321.03 124.28L324.03 118.88L318.03 118.88Z" fill="#0000ff"/>
<path d="M324.77 123.88L327.77 118.48L321.77 118.48Z" fill="#0000ff"/>
<path d="M328.51 123.46L331.51 118.06L325.51 118.06Z" fill="#0000ff"/>
<path d="M332.25 123.07L335.25 117.67L329.25 117.67Z" fill="#0000ff"/>
<path d="M335.99 122.74L338.99 117.34L332.99 117.34Z" fill="#0000ff"/>
<path d="M339.73 122.44L342.73 117.04L336.73 117.04Z" fill="#0000ff"/>
<path d="M343.47 122.16L346.47 116.76L340.47 116.76Z" fill="#0000ff"/>
<path d="M347.20 121.91L350.20 116.51L344.20 116.51Z" fill="#0000ff"/>
<path d="M49.60 131.22 L51.84 131.22 L55.58 131.22 L59.32 131.22 L63.06 131.22 L66.80 131.22 L70.54 131.22 L74.28 131.22 L78.01 125.57 L81.75 105.54 L85.49 85.36 L89.23 72.48 L92.97 78.33 L96.71 90.08 L100.45 101.98 L104.19 109.09 L107.92 112.43 L111.66 113.88 L115.40 113.84 L119.14 113.07 L122.88 111.16 L126.62 108.46 L130.36 105.82 L134.10 103.27 L137.83 101.62 L141.57 101.14 L145.31 101.48 L149.05 103.44 L152.79 105.99 L156.53 108.02 L160.27 109.54 L164.01 110.42 L167.74 110.98 L171.48 111.50 L175.22 112.01 L178.96 112.43 L182.70 112.77 L186.44 113.04 L190.18 113.29 L193.92 113.48 L197.65 113.17 L201.39 112.07 L205.13 110.69 L208.87 108.62 L212.61 107.46 L216.35 106.90 L220.09 106.49 L223.83 106.19 L227.56 105.92 L231.30 105.66 L235.04 105.42 L238.78 105.23 L242.52 105.11 L246.26 105.13 L250.00 105.50 L253.74 106.14 L257.47 106.88 L261.21 107.54 L264.95 108.01 L268.69 108.40 L272.43 108.76 L276.17 109.12 L279.91 109.52 L283.65 110.06 L287.38 110.62 L291.12 110.85 L294.86 110.81 L298.60 110.73 L302.34 110.60 L306.08 110.44 L309.82 110.26 L313.56 110.03 L317.29 109.62 L321.03 109.11 L324.77 108.58 L328.51 108.11 L332.25 107.77 L335.99 107.46 L339.73 107.18 L343.47 106.93 L347.20 106.71 L348.70 106.64" fill="none" stroke="#00ff00" stroke-width="1.5" stroke-linejoin="round"/>
<path d="M51.84 128.22L54.84 133.62L48.84 133.62Z" fill="#00ff00"/>
<path d="M55.58 128.22L58.58 133.62L52.58 133.62Z" fill="#00ff00"/>
<path d="M59.32 128.22L62.32 133.62L56.32 133.62Z" fill="#00ff00"/>
<path d="M63.06 128.22L66.06 133.62L60.06 133.62Z" fill="#00ff00"/>
<path d="M66.80 128.22L69.80 133.62L63.80 133.62Z" fill="#00ff00"/>
<path d="M70.54 128.22L73.54 133.62L67.54 133.62Z" fill="#00ff00"/>
<path d="M74.28 128.22L77.28 133.62L71.28 133.62Z" fill="#00ff00"/>
<path d="M78.01 122.57L81.01 127.97L75.01 127.97Z" fill="#00ff00"/>
<path d="M81.75 102.54L84.75 107.94L78.75 107.94Z" fill="#00ff00"/>
<path d="M85.49 82.36L88.49 87.76L82.49 87.76Z" fill="#00ff00"/>
<path d="M89.23 69.48L92.23 74.88L86.23 74.88Z" fill="#00ff00"/>
<path d="M92.97 75.33L95.97 80.73L89.97 80.73Z" fill="#00ff00"/>
<path d="M96.71 87.08L99.71 92.48L93.71 92.48Z" fill="#00ff00"/>
<path d="M100.45 98.98L103.45 104.38L97.45 104.38Z" fill="#00ff00"/>
<path d="M104.19 106.09L107.19 111.49L101.19 111.49Z" fill="#00ff00"/>
<path d="M107.92 109.43L110.92 114.83L104.92 114.83Z" fill="#00ff00"/>
<path d="M111.66 110.88L114.66 116.28L108.66 116.28Z" fill="#00ff00"/>
<path d="M115.40 110.84L118.40 116.24L112.40 116.24Z" fill="#00ff00"/>
<path d="M119.14 110.07L122.14 115.47L116.14 115.47Z" fill="#00ff00"/>
<path d="M122.88 108.16L125.88 113.56L119.88 113.56Z" fill="#00ff00"/>
<path d="M126.62 105.46L129.62 110.86L123.62 110.86Z" fill="#00ff00"/>
<path d="M130.36 102.82L133.36 108.22L127.36 108.22Z" fill="#00ff00"/>
<path d="M134.10 100.27L137.10 105.67L131.10 105.67Z" fill="#00ff00"/>
<path d="M137.83 98.62L140.83 104.02L134.83 104.02Z" fill="#00ff00"/>
<path d="M141.57 98.14L144.57 103.54L138.57 103.54Z" fill="#00ff00"/>
<path d="M145.31 98.48L148.31 103.88L142.31 103.88Z" fill="#00ff00"/>
<path d="M149.05 100.44L152.05 105.84L146.05 105.84Z" fill="#00ff00"/>
<path d="M152.79 102.99L155.79 108.39L149.79 108.39Z" fill="#00ff00"/>
<path d="M156.53 105.02L159.53 110.42L153.53 110.42Z" fill="#00ff00"/>
<path d="M160.27 106.54L163.27 111.94L157.27 111.94Z" fill="#00ff00"/>
<path d="M164.01 107.42L167.01 112.82L161.01 112.82Z" fill="#00ff00"/>
<path d="M167.74 107.98L170.74 113.38L164.74 113.38Z" fill="#00ff00"/>
<path d="M171.48 108.50L174.48 113.90L168.48 113.90Z" fill="#00ff00"/>
<path d="M175.22 109.01L178.22 114.41L172.22 114.41Z" fill="#00ff00"/>
<path d="M178.96 109.43L181.96 114.83L175.96 114.83Z" fill="#00ff00"/>
<path d="M182.70 109.77L185.70 115.17L179.70 115.17Z" fill="#00ff00"/>
<path d="M186.44 110.04L189.44 115.44L183.44 115.44Z" fill="#00ff00"/>
<path d="M190.18 110.29L193.18 115.69L187.18 115.69Z" fill="#00ff00"/>
<path d="M193.92 110.48L196.92 115.88L190.92 115.88Z" fill="#00ff00"/>
<path d="M197.65 110.17L200.65 115.57L194.65 115.57Z" fill="#00ff00"/>
<path d="M201.39 109.07L204.39 114.47L198.39 114.47Z" fill="#00ff00"/>
<path d="M205.13 107.69L208.13 113.09L202.13 113.09Z" fill="#00ff00"/>
<path d="M208.87 105.62L211.87 111.02L205.87 111.02Z" fill="#00ff00"/>
<path d="M212.61 104.46L215.61 109.86L209.61 109.86Z" fill="#00ff00"/>
<path d="M216.35 103.90L219.35 109.30L213.35 109.30Z" fill="#00ff00"/>
<path d="M220.09 103.49L223.09 108.89L217.09 108.89Z" fill="#00ff00"/>
<path d="M223.83 103.19L226.83 108.59L220.83 108.59Z" fill="#00ff00"/>
<path d="M227.56 102.92L230.56 108.32L224.56 108.32Z" fill="#00ff00"/>
<path d="M231.30 102.66L234.30 108.06L228.30 108.06Z" fill="#00ff00"/>
<path d="M235.04 102.42L238.04 107.82L232.04 107.82Z" fill="#00ff00"/>
<path d="M238.78 102.23L241.78 107.63L235.78 107.63Z" fill="#00ff00"/>
<path d="M242.52 102.11L245.52 107.51L239.52 107.51Z" fill="#00ff00"/>
<path d="M246.26 102.13L249.26 107.53L243.26 107.53Z" fill="#00ff00"/>
<path d="M250.00 102.50L253.00 107.90L247.00 107.90Z" fill="#00ff00"/>
<path d="M253.74 103.14L256.74 108.54L250.74 108.54Z" fill="#00ff00"/>
<path d="M257.47 103.88L260.47 109.28L254.47 109.28Z" fill="#00ff00"/>
<path d="M261.21 104.54L264.21 109.94L258.21 109.94Z" fill="#00ff00"/>
<path d="M264.95 105.01L267.95 110.41L261.95 110.41Z" fill="#00ff00"/>
<path d="M268.69 105.40L271.69 110.80L265.69 110.80Z" fill="#00ff00"/>
<path d="M272.43 105.76L275.43 111.16L269.43 111.16Z" fill="#00ff00"/>
<path d="M276.17 106.12L279.17 111.52L273.17 111.52Z" fill="#00ff00"/>
<path d="M279.91 106.52L282.91 111.92L276.91 111.92Z" fill="#00ff00"/>
<path d="M283.65 107.06L286.65 112.46L280.65 112.46Z" fill="#00ff00"/>
<path d="M287.38 107.62L290.38 113.02L284.38 113.02Z" fill="#00ff00"/>
<path d="M291.12 107.85L294.12 113.25L288.12 113.25Z" fill="#00ff00"/>
<path d="M294.86 107.81L297.86 113.21L291.86 113.21Z" fill="#00ff00"/>
<path d="M298.60 107.73L301.60 113.13L295.60 113.13Z" fill="#00ff00"/>
<path d="M302.34 107.60L305.34 113.00L299.34 113.00Z" fill="#00ff00"/>
<path d="M306.08 107.44L309.08 112.84L303.08 112.84Z" fill="#00ff00"/>
<path d="M309.82 107.26L312.82 112.66L306.82 112.66Z" fill="#00ff00"/>
<path d="M313.56 107.03L316.56 112.43L310.56 112.43Z" fill="#00ff00"/>
<path d="M317.29 106.62L320.29 112.02L314.29 112.02Z" fill="#00ff00"/>
<path d="M321.03 106.11L324.03 111.51L318.03 111.51Z" fill="#00ff00"/>
<path d="M324.77 105.58L327.77 110.98L321.77 110.98Z" fill="#00ff00"/>
<path d="M328.51 105.11L331.51 110.51L325.51 110.51Z" fill="#00ff00"/>
<path d="M332.25 104.77L335.25 110.17L329.25 110.17Z" fill="#00ff00"/>
<path d="M335.99 104.46L338.99 109.86L332.99 109.86Z" fill="#00ff00"/>
<path d="M339.73 104.18L342.73 109.58L336.73 109.58Z" fill="#00ff00"/>
<path d="M343.47 103.93L346.47 109.33L340.47 109.33Z" fill="#00ff00"/>
<path d="M347.20 103.71L350.20 109.11L344.20 109.11Z" fill="#00ff00"/>
<path d="M49.60 120.15 L51.84 120.15 L55.58 120.15 L59.32 120.15 L63.06 120.15 L66.80 120.15 L70.54 120.15 L74.28 120.15 L78.01 113.52 L81.75 90.29 L85.49 67.43 L89.23 56.80 L92.97 64.72 L96.71 75.91 L100.45 87.50 L104.19 96.20 L107.92 101.83 L111.66 104.78 L115.40 105.19 L119.14 104.16 L122.88 101.62 L126.62 98.37 L130.36 94.39 L134.10 92.14 L137.83 90.35 L141.57 89.82 L145.31 90.77 L149.05 93.81 L152.79 96.67 L156.53 98.69 L160.27 100.07 L164.01 100.82 L167.74 101.29 L171.48 101.71 L175.22 102.11 L178.96 102.46 L182.70 102.86 L186.44 103.09 L190.18 103.09 L193.92 103.09 L197.65 102.35 L201.39 101.17 L205.13 99.61 L208.87 98.00 L212.61 96.99 L216.35 96.17 L220.09 95.57 L223.83 95.23 L227.56 94.96 L231.30 94.77 L235.04 94.68 L238.78 94.75 L242.52 94.98 L246.26 95.30 L250.00 95.63 L253.74 96.03 L257.47 96.50 L261.21 96.95 L264.95 97.34 L268.69 97.69 L272.43 98.03 L276.17 98.36 L279.91 98.66 L283.65 99.01 L287.38 99.37 L291.12 99.66 L294.86 99.77 L298.60 99.74 L302.34 99.65 L306.08 99.53 L309.82 99.39 L313.56 99.23 L317.29 99.00 L321.03 98.72 L324.77 98.42 L328.51 98.12 L332.25 97.83 L335.99 97.53 L339.73 97.22 L343.47 96.91 L347.20 96.58 L348.70 96.45" fill="none" stroke="#ff0000" stroke-width="1.5" stroke-linejoin="round"/>
<circle cx="51.84" cy="120.15" r="2.35" fill="#ff0000"/>
<circle cx="55.58" cy="120.15" r="2.35" fill="#ff0000"/>
<circle cx="59.32" cy="120.15" r="2.35" fill="#ff0000"/>
<circle cx="63.06" cy="120.15" r="2.35" fill="#ff0000"/>
<circle cx="66.80" cy="120.15" r="2.35" fill="#ff0000"/>
<circle cx="70.54" cy="120.15" r="2.35" fill="#ff0000"/>
<circle cx="74.28" cy="120.15" r="2.35" fill="#ff0000"/>
<circle cx="78.01" cy="113.52" r="2.35" fill="#ff0000"/>
<circle cx="81.75" cy="90.29" r="2.35" fill="#ff0000"/>
<circle cx="85.49" cy="67.43" r="2.35" fill="#ff0000"/>
<circle cx="89.23" cy="56.80" r="2.35" fill="#ff0000"/>
<circle cx="92.97" cy="64.72" r="2.35" fill="#ff0000"/>
<circle cx="96.71" cy="75.91" r="2.35" fill="#ff0000"/>
<circle cx="100.45" cy="87.50" r="2.35" fill="#ff0000"/>
<circle cx="104.19" cy="96.20" r="2.35" fill="#ff0000"/>
<circle cx="107.92" cy="101.83" r="2.35" fill="#ff0000"/>
<circle cx="111.66" cy="104.78" r="2.35" fill="#ff0000"/>
<circle cx="115.40" cy="105.19" r="2.35" fill="#ff0000"/>
<circle cx="119.14" cy="104.16" r="2.35" fill="#ff0000"/>
<circle cx="122.88" cy="101.62" r="2.35" fill="#ff0000"/>
<circle cx="126.62" cy="98.37" r="2.35" fill="#ff0000"/>
<circle cx="130.36" cy="94.39" r="2.35" fill="#ff0000"/>
<circle cx="134.10" cy="92.14" r="2.35" fill="#ff0000"/>
<circle cx="137.83" cy="90.35" r="2.35" fill="#ff0000"/>
<circle cx="141.57" cy="89.82" r="2.35" fill="#ff0000"/>
<circle cx="145.31" cy="90.77" r="2.35" fill="#ff0000"/>
<circle cx="149.05" cy="93.81" r="2.35" fill="#ff0000"/>
<circle cx="152.79" cy="96.67" r="2.35" fill="#ff0000"/>
<circle cx="156.53" cy="98.69" r="2.35" fill="#ff0000"/>
<circle cx="160.27" cy="100.07" r="2.35" fill="#ff0000"/>
<circle cx="164.01" cy="100.82" r="2.35" fill="#ff0000"/>
<circle cx="167.74" cy="101.29" r="2.35" fill="#ff0000"/>
<circle cx="171.48" cy="101.71" r="2.35" fill="#ff0000"/>
<circle cx="175.22" cy="102.11" r="2.35" fill="#ff0000"/>
<circle cx="178.96" cy="102.46" r="2.35" fill="#ff0000"/>
<circle cx="182.70" cy="102.86" r="2.35" fill="#ff0000"/>
<circle cx="186.44" cy="103.09" r="2.35" fill="#ff0000"/>
<circle cx="190.18" cy="103.09" r="2.35" fill="#ff0000"/>
<circle cx="193.92" cy="103.09" r="2.35" fill="#ff0000"/>
<circle cx="197.65" cy="102.35" r="2.35" fill="#ff0000"/>
<circle cx="201.39" cy="101.17" r="2.35" fill="#ff0000"/>
<circle cx="205.13" cy="99.61" r="2.35" fill="#ff0000"/>
<circle cx="208.87" cy="98.00" r="2.35" fill="#ff0000"/>
<circle cx="212.61" cy="96.99" r="2.35" fill="#ff0000"/>
<circle cx="216.35" cy="96.17" r="2.35" fill="#ff0000"/>
<circle cx="220.09" cy="95.57" r="2.35" fill="#ff0000"/>
<circle cx="223.83" cy="95.23" r="2.35" fill="#ff0000"/>
<circle cx="227.56" cy="94.96" r="2.35" fill="#ff0000"/>
<circle cx="231.30" cy="94.77" r="2.35" fill="#ff0000"/>
<circle cx="235.04" cy="94.68" r="2.35" fill="#ff0000"/>
<circle cx="238.78" cy="94.75" r="2.35" fill="#ff0000"/>
<circle cx="242.52" cy="94.98" r="2.35" fill="#ff0000"/>
<circle cx="246.26" cy="95.30" r="2.35" fill="#ff0000"/>
<circle cx="250.00" cy="95.63" r="2.35" fill="#ff0000"/>
<circle cx="253.74" cy="96.03" r="2.35" fill="#ff0000"/>
<circle cx="257.47" cy="96.50" r="2.35" fill="#ff0000"/>
<circle cx="261.21" cy="96.95" r="2.35" fill="#ff0000"/>
<circle cx="264.95" cy="97.34" r="2.35" fill="#ff0000"/>
<circle cx="268.69" cy="97.69" r="2.35" fill="#ff0000"/>
<circle cx="272.43" cy="98.03" r="2.35" fill="#ff0000"/>
<circle cx="276.17" cy="98.36" r="2.35" fill="#ff0000"/>
<circle cx="279.91" cy="98.66" r="2.35" fill="#ff0000"/>
<circle cx="283.65" cy="99.01" r="2.35" fill="#ff0000"/>
<circle cx="287.38" cy="99.37" r="2.35" fill="#ff0000"/>
<circle cx="291.12" cy="99.66" r="2.35" fill="#ff0000"/>
<circle cx="294.86" cy="99.77" r="2.35" fill="#ff0000"/>
<circle cx="298.60" cy="99.74" r="2.35" fill="#ff0000"/>
<circle cx="302.34" cy="99.65" r="2.35" fill="#ff0000"/>
<circle cx="306.08" cy="99.53" r="2.35" fill="#ff0000"/>
<circle cx="309.82" cy="99.39" r="2.35" fill="#ff0000"/>
<circle cx="313.56" cy="99.23" r="2.35" fill="#ff0000"/>
<circle cx="317.29" cy="99.00" r="2.35" fill="#ff0000"/>
<circle cx="321.03" cy="98.72" r="2.35" fill="#ff0000"/>
<circle cx="324.77" cy="98.42" r="2.35" fill="#ff0000"/>
<circle cx="328.51" cy="98.12" r="2.35" fill="#ff0000"/>
<circle cx="332.25" cy="97.83" r="2.35" fill="#ff0000"/>
<circle cx="335.99" cy="97.53" r="2.35" fill="#ff0000"/>
<circle cx="339.73" cy="97.22" r="2.35" fill="#ff0000"/>
<circle cx="343.47" cy="96.91" r="2.35" fill="#ff0000"/>
<circle cx="347.20" cy="96.58" r="2.35" fill="#ff0000"/>
<path d="M49.60 109.08 L51.84 109.08 L55.58 109.08 L59.32 109.08 L63.06 109.08 L66.80 109.08 L70.54 109.08 L74.28 109.08 L78.01 101.99 L81.75 74.30 L85.49 49.27 L89.23 41.74 L92.97 52.81 L96.71 64.33 L100.45 76.07 L104.19 87.29 L107.92 92.54 L111.66 95.71 L115.40 96.00 L119.14 95.27 L122.88 92.18 L126.62 88.09 L130.36 81.83 L134.10 78.73 L137.83 76.29 L141.57 76.40 L145.31 79.17 L149.05 82.72 L152.79 86.21 L156.53 88.54 L160.27 90.06 L164.01 90.69 L167.74 90.69 L171.48 90.64 L175.22 90.25 L178.96 90.03 L182.70 90.28 L186.44 90.66 L190.18 90.99 L193.92 91.29 L197.65 91.09 L201.39 89.13 L205.13 86.46 L208.87 84.76 L212.61 84.18 L216.35 84.00 L220.09 83.88 L223.83 83.80 L227.56 83.73 L231.30 83.66 L235.04 83.56 L238.78 83.42 L242.52 83.29 L246.26 83.19 L250.00 83.19 L253.74 83.92 L257.47 85.03 L261.21 85.74 L264.95 86.16 L268.69 86.50 L272.43 86.81 L276.17 87.12 L279.91 87.46 L283.65 87.77 L287.38 87.98 L291.12 88.03 L294.86 88.00 L298.60 87.94 L302.34 87.86 L306.08 87.75 L309.82 87.64 L313.56 87.50 L317.29 87.29 L321.03 87.03 L324.77 86.72 L328.51 86.39 L332.25 86.03 L335.99 85.57 L339.73 85.18 L343.47 84.94 L347.20 84.76 L348.70 84.71" fill="none" stroke="#000000" stroke-width="2.0" stroke-linejoin="round"/>
<rect x="49.84" y="107.08" width="4" height="4" fill="#000000"/>
<rect x="53.58" y="107.08" width="4" height="4" fill="#000000"/>
<rect x="57.32" y="107.08" width="4" height="4" fill="#000000"/>
<rect x="61.06" y="107.08" width="4" height="4" fill="#000000"/>
<rect x="64.80" y="107.08" width="4" height="4" fill="#000000"/>
<rect x="68.54" y="107.08" width="4" height="4" fill="#000000"/>
<rect x="72.28" y="107.08" width="4" height="4" fill="#000000"/>
<rect x="76.01" y="99.99" width="4" height="4" fill="#000000"/>
<rect x="79.75" y="72.30" width="4" height="4" fill="#000000"/>
<rect x="83.49" y="47.27" width="4" height="4" fill="#000000"/>
<rect x="87.23" y="39.74" width="4" height="4" fill="#000000"/>
<rect x="90.97" y="50.81" width="4" height="4" fill="#000000"/>
<rect x="94.71" y="62.33" width="4" height="4" fill="#000000"/>
<rect x="98.45" y="74.07" width="4" height="4" fill="#000000"/>
<rect x="102.19" y="85.29" width="4" height="4" fill="#000000"/>
<rect x="105.92" y="90.54" width="4" height="4" fill="#000000"/>
<rect x="109.66" y="93.71" width="4" height="4" fill="#000000"/>
<rect x="113.40" y="94.00" width="4" height="4" fill="#000000"/>
<rect x="117.14" y="93.27" width="4" height="4" fill="#000000"/>
<rect x="120.88" y="90.18" width="4" height="4" fill="#000000"/>
<rect x="124.62" y="86.09" width="4" height="4" fill="#000000"/>
<rect x="128.36" y="79.83" width="4" height="4" fill="#000000"/>
<rect x="132.10" y="76.73" width="4" height="4" fill="#000000"/>
<rect x="135.83" y="74.29" width="4" height="4" fill="#000000"/>
<rect x="139.57" y="74.40" width="4" height="4" fill="#000000"/>
<rect x="143.31" y="77.17" width="4" height="4" fill="#000000"/>
<rect x="147.05" y="80.72" width="4" height="4" fill="#000000"/>
<rect x="150.79" y="84.21" width="4" height="4" fill="#000000"/>
<rect x="154.53" y="86.54" width="4" height="4" fill="#000000"/>
<rect x="158.27" y="88.06" width="4" height="4" fill="#000000"/>
<rect x="162.01" y="88.69" width="4" height="4" fill="#000000"/>
<rect x="165.74" y="88.69" width="4" height="4" fill="#000000"/>
<rect x="169.48" y="88.64" width="4" height="4" fill="#000000"/>
<rect x="173.22" y="88.25" width="4" height="4" fill="#000000"/>
<rect x="176.96" y="88.03" width="4" height="4" fill="#000000"/>
<rect x="180.70" y="88.28" width="4" height="4" fill="#000000"/>
<rect x="184.44" y="88.66" width="4" height="4" fill="#000000"/>
<rect x="188.18" y="88.99" width="4" height="4" fill="#000000"/>
<rect x="191.92" y="89.29" width="4" height="4" fill="#000000"/>
<rect x="195.65" y="89.09" width="4" height="4" fill="#000000"/>
<rect x="199.39" y="87.13" width="4" height="4" fill="#000000"/>
<rect x="203.13" y="84.46" width="4" height="4" fill="#000000"/>
<rect x="206.87" y="82.76" width="4" height="4" fill="#000000"/>
<rect x="210.61" y="82.18" width="4" height="4" fill="#000000"/>
<rect x="214.35" y="82.00" width="4" height="4" fill="#000000"/>
<rect x="218.09" y="81.88" width="4" height="4" fill="#000000"/>
<rect x="221.83" y="81.80" width="4" height="4" fill="#000000"/>
<rect x="225.56" y="81.73" width="4" height="4" fill="#000000"/>
<rect x="229.30" y="81.66" width="4" height="4" fill="#000000"/>
<rect x="233.04" y="81.56" width="4" height="4" fill="#000000"/>
<rect x="236.78" y="81.42" width="4" height="4" fill="#000000"/>
<rect x="240.52" y="81.29" width="4" height="4" fill="#000000"/>
<rect x="244.26" y="81.19" width="4" height="4" fill="#000000"/>
<rect x="248.00" y="81.19" width="4" height="4" fill="#000000"/>
<rect x="251.74" y="81.92" width="4" height="4" fill="#000000"/>
<rect x="255.47" y="83.03" width="4" height="4" fill="#000000"/>
<rect x="259.21" y="83.74" width="4" height="4" fill="#000000"/>
<rect x="262.95" y="84.16" width="4" height="4" fill="#000000"/>
<rect x="266.69" y="84.50" width="4" height="4" fill="#000000"/>
<rect x="270.43" y="84.81" width="4" height="4" fill="#000000"/>
<rect x="274.17" y="85.12" width="4" height="4" fill="#000000"/>
<rect x="277.91" y="85.46" width="4" height="4" fill="#000000"/>
<rect x="281.65" y="85.77" width="4" height="4" fill="#000000"/>
<rect x="285.38" y="85.98" width="4" height="4" fill="#000000"/>
<rect x="289.12" y="86.03" width="4" height="4" fill="#000000"/>
<rect x="292.86" y="86.00" width="4" height="4" fill="#000000"/>
<rect x="296.60" y="85.94" width="4" height="4" fill="#000000"/>
<rect x="300.34" y="85.86" width="4" height="4" fill="#000000"/>
<rect x="304.08" y="85.75" width="4" height="4" fill="#000000"/>
<rect x="307.82" y="85.64" width="4" height="4" fill="#000000"/>
<rect x="311.56" y="85.50" width="4" height="4" fill="#000000"/>
<rect x="315.29" y="85.29" width="4" height="4" fill="#000000"/>
<rect x="319.03" y="85.03" width="4" height="4" fill="#000000"/>
<rect x="322.77" y="84.72" width="4" height="4" fill="#000000"/>
<rect x="326.51" y="84.39" width="4" height="4" fill="#000000"/>
<rect x="330.25" y="84.03" width="4" height="4" fill="#000000"/>
<rect x="333.99" y="83.57" width="4" height="4" fill="#000000"/>
<rect x="337.73" y="83.18" width="4" height="4" fill="#000000"/>
<rect x="341.47" y="82.94" width="4" height="4" fill="#000000"/>
<rect x="345.20" y="82.76" width="4" height="4" fill="#000000"/>
<path d="M49.60 186.60v-4M49.60 9.40v4M68.29 186.60v-2.5M68.29 9.40v2.5M86.99 186.60v-4M86.99 9.40v4M105.68 186.60v-2.5M105.68 9.40v2.5M124.38 186.60v-4M124.38 9.40v4M143.07 186.60v-2.5M143.07 9.40v2.5M161.76 186.60v-4M161.76 9.40v4M180.46 186.60v-2.5M180.46 9.40v2.5M199.15 186.60v-4M199.15 9.40v4M217.84 186.60v-2.5M217.84 9.40v2.5M236.54 186.60v-4M236.54 9.40v4M255.23 186.60v-2.5M255.23 9.40v2.5M273.93 186.60v-4M273.93 9.40v4M292.62 186.60v-2.5M292.62 9.40v2.5M311.31 186.60v-4M311.31 9.40v4M330.01 186.60v-2.5M330.01 9.40v2.5M348.70 186.60v-4M348.70 9.40v4M49.60 186.60h4M348.70 186.60h-4M49.60 164.45h2.5M348.70 164.45h-2.5M49.60 142.30h4M348.70 142.30h-4M49.60 120.15h2.5M348.70 120.15h-2.5M49.60 98.00h4M348.70 98.00h-4M49.60 75.85h2.5M348.70 75.85h-2.5M49.60 53.70h4M348.70 53.70h-4M49.60 31.55h2.5M348.70 31.55h-2.5M49.60 9.40h4M348.70 9.40h-4" stroke="#000" stroke-width="1.2" fill="none"/>
<text x="49.60" y="202.2" font-size="15.5" text-anchor="middle" font-weight="bold" font-style="normal" >2</text>
<text x="86.99" y="202.2" font-size="15.5" text-anchor="middle" font-weight="bold" font-style="normal" >3</text>
<text x="124.38" y="202.2" font-size="15.5" text-anchor="middle" font-weight="bold" font-style="normal" >4</text>
<text x="161.76" y="202.2" font-size="15.5" text-anchor="middle" font-weight="bold" font-style="normal" >5</text>
<text x="199.15" y="202.2" font-size="15.5" text-anchor="middle" font-weight="bold" font-style="normal" >6</text>
<text x="236.54" y="202.2" font-size="15.5" text-anchor="middle" font-weight="bold" font-style="normal" >7</text>
<text x="273.93" y="202.2" font-size="15.5" text-anchor="middle" font-weight="bold" font-style="normal" >8</text>
<text x="311.31" y="202.2" font-size="15.5" text-anchor="middle" font-weight="bold" font-style="normal" >9</text>
<text x="348.70" y="202.2" font-size="15.5" text-anchor="middle" font-weight="bold" font-style="normal" >10</text>
<text x="46.5" y="191.40" font-size="15.5" text-anchor="end" font-weight="bold" font-style="normal" >0</text>
<text x="46.5" y="147.10" font-size="15.5" text-anchor="end" font-weight="bold" font-style="normal" >2</text>
<text x="46.5" y="102.80" font-size="15.5" text-anchor="end" font-weight="bold" font-style="normal" >4</text>
<text x="46.5" y="58.50" font-size="15.5" text-anchor="end" font-weight="bold" font-style="normal" >6</text>
<text x="46.5" y="14.20" font-size="15.5" text-anchor="end" font-weight="bold" font-style="normal" >8</text>
<text x="1" y="15.0" font-size="19.5" text-anchor="start" font-weight="bold" font-style="normal" >(a)</text>
<text x="179.3" y="223.8" font-size="19"><tspan font-weight="bold" font-style="italic">r</tspan> (Å)</text>
<text transform="translate(25 105) rotate(-90)" font-size="18.5"><tspan font-weight="bold">g</tspan>(<tspan font-weight="bold" font-style="italic">r</tspan>)</text>
<path d="M204.5 21.00h27.4" stroke="#000000" stroke-width="3" stroke-linecap="round"/>
<rect x="216.00" y="19.00" width="4" height="4" fill="#000000"/>
<text x="235.3" y="25.00" font-size="12.5" text-anchor="start" font-weight="bold" font-style="normal" >300 K</text>
<path d="M270.0 21.00h27.4" stroke="#ff0000" stroke-width="3" stroke-linecap="round"/>
<circle cx="283.50" cy="21.00" r="2.35" fill="#ff0000"/>
<text x="300.8" y="25.00" font-size="12.5" text-anchor="start" font-weight="bold" font-style="normal" >473 K</text>
<path d="M204.5 36.30h27.4" stroke="#00ff00" stroke-width="3" stroke-linecap="round"/>
<path d="M218.00 34.30L220.00 37.90L216.00 37.90Z" fill="#00ff00"/>
<text x="235.3" y="40.30" font-size="12.5" text-anchor="start" font-weight="bold" font-style="normal" >573 K</text>
<path d="M270.0 36.30h27.4" stroke="#0000ff" stroke-width="3" stroke-linecap="round"/>
<path d="M283.50 38.30L285.50 34.70L281.50 34.70Z" fill="#0000ff"/>
<text x="300.8" y="40.30" font-size="12.5" text-anchor="start" font-weight="bold" font-style="normal" >673 K</text>
<path d="M204.5 51.60h27.4" stroke="#00ffff" stroke-width="3" stroke-linecap="round"/>
<path d="M218.00 49.40L220.00 51.60L218.00 53.80L216.00 51.60Z" fill="#00ffff"/>
<text x="235.3" y="55.60" font-size="12.5" text-anchor="start" font-weight="bold" font-style="normal" >773 K</text>
<path d="M270.0 51.60h27.4" stroke="#ff00ff" stroke-width="3" stroke-linecap="round"/>
<path d="M281.50 51.60L285.10 49.60L285.10 53.60Z" fill="#ff00ff"/>
<text x="300.8" y="55.60" font-size="12.5" text-anchor="start" font-weight="bold" font-style="normal" >873 K</text>
<path d="M204.5 66.90h27.4" stroke="#008000" stroke-width="3" stroke-linecap="round"/>
<path d="M220.00 66.90L216.40 64.90L216.40 68.90Z" fill="#008000"/>
<text x="235.3" y="70.90" font-size="12.5" text-anchor="start" font-weight="bold" font-style="normal" >973 K</text>
<path d="M270.0 66.90h27.4" stroke="#ff8000" stroke-width="3" stroke-linecap="round"/>
<circle cx="283.50" cy="66.90" r="2.35" fill="#ff8000"/>
<text x="300.8" y="70.90" font-size="12.5" text-anchor="start" font-weight="bold" font-style="normal" >1173 K</text>
<path d="M77.61 405.00v-4M77.61 237.20v4M77.61 572.70v-4M77.61 405.00v4M102.42 405.00v-2.5M102.42 237.20v2.5M102.42 572.70v-2.5M102.42 405.00v2.5M127.22 405.00v-4M127.22 237.20v4M127.22 572.70v-4M127.22 405.00v4M152.03 405.00v-2.5M152.03 237.20v2.5M152.03 572.70v-2.5M152.03 405.00v2.5M176.84 405.00v-4M176.84 237.20v4M176.84 572.70v-4M176.84 405.00v4M201.65 405.00v-2.5M201.65 237.20v2.5M201.65 572.70v-2.5M201.65 405.00v2.5M226.46 405.00v-4M226.46 237.20v4M226.46 572.70v-4M226.46 405.00v4M251.27 405.00v-2.5M251.27 237.20v2.5M251.27 572.70v-2.5M251.27 405.00v2.5M276.07 405.00v-4M276.07 237.20v4M276.07 572.70v-4M276.07 405.00v4M300.88 405.00v-2.5M300.88 237.20v2.5M300.88 572.70v-2.5M300.88 405.00v2.5M325.69 405.00v-4M325.69 237.20v4M325.69 572.70v-4M325.69 405.00v4M52.80 405.00h4M350.50 405.00h-4M52.80 377.03h2.5M350.50 377.03h-2.5M52.80 349.07h4M350.50 349.07h-4M52.80 321.10h2.5M350.50 321.10h-2.5M52.80 293.13h4M350.50 293.13h-4M52.80 265.17h2.5M350.50 265.17h-2.5M52.80 237.20h4M350.50 237.20h-4M52.80 572.70h4M350.50 572.70h-4M52.80 544.75h2.5M350.50 544.75h-2.5M52.80 516.80h4M350.50 516.80h-4M52.80 488.85h2.5M350.50 488.85h-2.5M52.80 460.90h4M350.50 460.90h-4M52.80 432.95h2.5M350.50 432.95h-2.5M52.80 405.00h4M350.50 405.00h-4" stroke="#000" stroke-width="1.2" fill="none"/>
<rect x="57.81" y="389.62" width="13.2" height="15.38" fill="url(#gr)" stroke="#000" stroke-width="1"/>
<rect x="71.01" y="403.88" width="13.2" height="1.12" fill="url(#gg)" stroke="#000" stroke-width="1"/>
<rect x="84.21" y="404.58" width="13.2" height="0.42" fill="url(#gb)" stroke="#000" stroke-width="1"/>
<rect x="107.42" y="327.25" width="13.2" height="77.75" fill="url(#gr)" stroke="#000" stroke-width="1"/>
<rect x="120.62" y="382.07" width="13.2" height="22.93" fill="url(#gg)" stroke="#000" stroke-width="1"/>
<rect x="133.82" y="400.53" width="13.2" height="4.47" fill="url(#gb)" stroke="#000" stroke-width="1"/>
<rect x="157.04" y="285.86" width="13.2" height="119.14" fill="url(#gr)" stroke="#000" stroke-width="1"/>
<rect x="170.24" y="284.74" width="13.2" height="120.26" fill="url(#gg)" stroke="#000" stroke-width="1"/>
<rect x="183.44" y="303.48" width="13.2" height="101.52" fill="url(#gb)" stroke="#000" stroke-width="1"/>
<rect x="206.66" y="347.39" width="13.2" height="57.61" fill="url(#gr)" stroke="#000" stroke-width="1"/>
<rect x="219.86" y="303.20" width="13.2" height="101.80" fill="url(#gg)" stroke="#000" stroke-width="1"/>
<rect x="233.06" y="284.18" width="13.2" height="120.82" fill="url(#gb)" stroke="#000" stroke-width="1"/>
<rect x="256.27" y="395.77" width="13.2" height="9.23" fill="url(#gr)" stroke="#000" stroke-width="1"/>
<rect x="269.47" y="375.08" width="13.2" height="29.92" fill="url(#gg)" stroke="#000" stroke-width="1"/>
<rect x="282.68" y="358.02" width="13.2" height="46.98" fill="url(#gb)" stroke="#000" stroke-width="1"/>
<rect x="305.89" y="404.58" width="13.2" height="0.42" fill="url(#gr)" stroke="#000" stroke-width="1"/>
<rect x="319.09" y="401.92" width="13.2" height="3.08" fill="url(#gg)" stroke="#000" stroke-width="1"/>
<rect x="332.29" y="399.41" width="13.2" height="5.59" fill="url(#gb)" stroke="#000" stroke-width="1"/>
<rect x="57.81" y="539.44" width="13.2" height="33.26" fill="url(#gr)" stroke="#000" stroke-width="1"/>
<rect x="71.01" y="549.78" width="13.2" height="22.92" fill="url(#gg)" stroke="#000" stroke-width="1"/>
<rect x="84.21" y="562.64" width="13.2" height="10.06" fill="url(#gb)" stroke="#000" stroke-width="1"/>
<rect x="107.42" y="450.56" width="13.2" height="122.14" fill="url(#gr)" stroke="#000" stroke-width="1"/>
<rect x="120.62" y="447.76" width="13.2" height="124.94" fill="url(#gg)" stroke="#000" stroke-width="1"/>
<rect x="133.82" y="455.59" width="13.2" height="117.11" fill="url(#gb)" stroke="#000" stroke-width="1"/>
<rect x="157.04" y="478.23" width="13.2" height="94.47" fill="url(#gr)" stroke="#000" stroke-width="1"/>
<rect x="170.24" y="460.06" width="13.2" height="112.64" fill="url(#gg)" stroke="#000" stroke-width="1"/>
<rect x="183.44" y="438.54" width="13.2" height="134.16" fill="url(#gb)" stroke="#000" stroke-width="1"/>
<rect x="206.66" y="548.38" width="13.2" height="24.32" fill="url(#gr)" stroke="#000" stroke-width="1"/>
<rect x="219.86" y="557.05" width="13.2" height="15.65" fill="url(#gg)" stroke="#000" stroke-width="1"/>
<rect x="233.06" y="557.05" width="13.2" height="15.65" fill="url(#gb)" stroke="#000" stroke-width="1"/>
<rect x="256.27" y="570.32" width="13.2" height="2.38" fill="url(#gr)" stroke="#000" stroke-width="1"/>
<rect x="269.47" y="572.36" width="13.2" height="0.34" fill="url(#gg)" stroke="#000" stroke-width="1"/>
<rect x="282.68" y="572.48" width="13.2" height="0.22" fill="url(#gb)" stroke="#000" stroke-width="1"/>
<rect x="52.8" y="237.2" width="297.70" height="335.50" fill="none" stroke="#000" stroke-width="1.4"/>
<path d="M52.8 405.0H350.5" stroke="#000" stroke-width="1.3"/>
<text x="77.21" y="589.7" font-size="14" text-anchor="middle" font-weight="bold" font-style="normal" >1</text>
<text x="126.82" y="589.7" font-size="14" text-anchor="middle" font-weight="bold" font-style="normal" >2</text>
<text x="176.44" y="589.7" font-size="14" text-anchor="middle" font-weight="bold" font-style="normal" >3</text>
<text x="226.06" y="589.7" font-size="14" text-anchor="middle" font-weight="bold" font-style="normal" >4</text>
<text x="275.68" y="589.7" font-size="14" text-anchor="middle" font-weight="bold" font-style="normal" >5</text>
<text x="325.29" y="589.7" font-size="14" text-anchor="middle" font-weight="bold" font-style="normal" >6</text>
<text x="48.6" y="353.77" font-size="14" text-anchor="end" font-weight="bold" font-style="normal" >20</text>
<text x="48.6" y="297.83" font-size="14" text-anchor="end" font-weight="bold" font-style="normal" >40</text>
<text x="48.6" y="241.90" font-size="14" text-anchor="end" font-weight="bold" font-style="normal" >60</text>
<text x="48.6" y="577.40" font-size="14" text-anchor="end" font-weight="bold" font-style="normal" >0</text>
<text x="48.6" y="521.50" font-size="14" text-anchor="end" font-weight="bold" font-style="normal" >20</text>
<text x="48.6" y="465.60" font-size="14" text-anchor="end" font-weight="bold" font-style="normal" >40</text>
<text x="48.6" y="409.70" font-size="14" text-anchor="end" font-weight="bold" font-style="normal" >60</text>
<text x="1.3" y="245.2" font-size="19.5" text-anchor="start" font-weight="bold" font-style="normal" >(b)</text>
<text x="319.8" y="265.4" font-size="17.5" text-anchor="start" font-weight="bold" font-style="normal" >Bi</text>
<text x="322.4" y="433.5" font-size="18.3" text-anchor="start" font-weight="bold" font-style="normal" >Te</text>
<text x="118.2" y="610.3" font-size="18" text-anchor="start" font-weight="bold" font-style="normal" >Coordination Number</text>
<text transform="translate(25.8 437.3) rotate(-90)" font-size="18.2" font-weight="bold">Fraction (%)</text>
<rect x="59.8" y="244.40" width="32.8" height="16" fill="url(#gr)" stroke="#000" stroke-width="1"/>
<text x="96.3" y="257.40" font-size="14.5" text-anchor="start" font-weight="bold" font-style="normal" >1173 K</text>
<rect x="59.8" y="262.20" width="32.8" height="16" fill="url(#gg)" stroke="#000" stroke-width="1"/>
<text x="96.3" y="275.20" font-size="14.5" text-anchor="start" font-weight="bold" font-style="normal" >673 K</text>
<rect x="59.8" y="280.30" width="32.8" height="16" fill="url(#gb)" stroke="#000" stroke-width="1"/>
<text x="96.3" y="293.30" font-size="14.5" text-anchor="start" font-weight="bold" font-style="normal" >300 K</text>
</svg>
</body></html>
